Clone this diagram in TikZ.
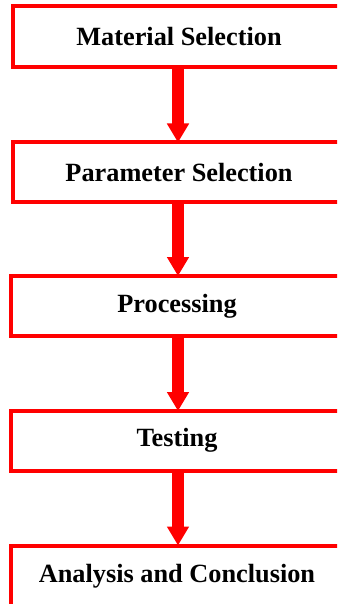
\documentclass[tikz,border=0pt]{standalone}
\usepackage{fontspec}
\setmainfont{Liberation Serif}
\usetikzlibrary{arrows.meta}
\definecolor{boxred}{RGB}{255,0,0}
\tikzset{
  stepbox/.style={draw=boxred, line width=4pt, fill=white, minimum width=332pt, minimum height=60pt,
    inner sep=0pt, font=\fontsize{26.3}{30}\selectfont\bfseries, text=black},
  flowarrow/.style={draw=boxred, line width=12pt, -{Triangle[width=21pt,length=19pt]}, shorten <=-1pt, shorten >=-2pt}
}
\begin{document}
\begin{tikzpicture}[x=1pt,y=-1pt]
\clip (0,0) rectangle (337,604);
\fill[white] (0,0) rectangle (337,604);
\node[stepbox, minimum height=61pt] (b1) at (179,37) {Material Selection};
\node[stepbox, minimum height=59.5pt] (b2) at (179,172.25) {Parameter Selection};
\node[stepbox] (b3) at (177,306) {Processing};
\node[stepbox, minimum height=59.5pt] (b4) at (177,440.75) {Testing};
\node[stepbox, minimum height=61pt] (b5) at (177,576) {Analysis and Conclusion};
\draw[flowarrow] (b1.south -| 178,0) -- (b2.north -| 178,0);
\draw[flowarrow] (b2.south -| 178,0) -- (b3.north -| 178,0);
\draw[flowarrow] (b3.south -| 178,0) -- (b4.north -| 178,0);
\draw[flowarrow] (b4.south -| 178,0) -- (b5.north -| 178,0);
\end{tikzpicture}
\end{document}
